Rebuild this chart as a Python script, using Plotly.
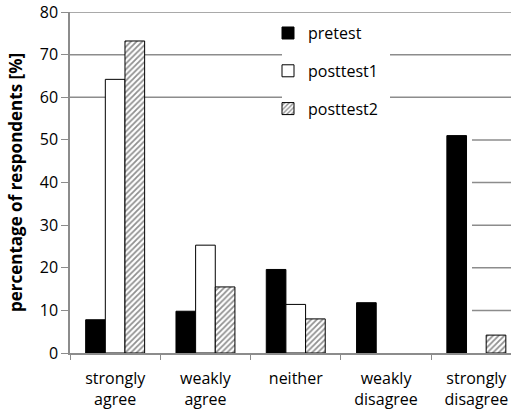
import plotly.graph_objects as go

categories = ["strongly<br>agree", "weakly<br>agree", "neither", "weakly<br>disagree", "strongly<br>disagree"]
pretest = [7.8, 9.8, 19.6, 11.8, 51.0]
posttest1 = [64.2, 25.3, 11.4, None, None]
posttest2 = [73.2, 15.5, 8.0, None, 4.2]
y_ticks = [0, 10, 20, 30, 40, 50, 60, 70, 80]

W, H = 511, 409
ML, MR, MT, MB = 70, 0, 12, 56
FONT = "Open Sans"
GRID = "#8c8c8c"

fig = go.Figure()
fig.add_trace(go.Bar(name="pretest", x=categories, y=pretest, legendgroup="a",
                     marker=dict(color="black", line=dict(color="black", width=1))))
fig.add_trace(go.Bar(name="posttest1", x=categories, y=posttest1, legendgroup="b",
                     marker=dict(color="white", line=dict(color="black", width=1))))
fig.add_trace(go.Bar(name="posttest2", x=categories, y=posttest2, legendgroup="c",
                     marker=dict(color="white", line=dict(color="black", width=1),
                                 pattern=dict(shape="/", size=4, solidity=0.45,
                                              fgcolor="#222222", bgcolor="white"))))

pw = W - ML - MR
cat_px = 90.3
xmax = pw / cat_px - 0.5

def px2paper(px):
    return (px - ML) / pw

fig.update_layout(
    width=W, height=H,
    margin=dict(l=ML, r=MR, t=MT, b=MB, pad=0),
    paper_bgcolor="white", plot_bgcolor="white",
    barmode="group", bargap=0.347, bargroupgap=0,
    font=dict(family=FONT, size=15, color="black"),
    showlegend=True,
    legend=dict(x=px2paper(268), xanchor="left", y=0.988, yanchor="top",
                bgcolor="rgba(0,0,0,0)", font=dict(size=16, family=FONT),
                tracegroupgap=14, itemwidth=30),
    xaxis=dict(range=[-0.5, xmax], showgrid=False, showline=True,
               linecolor=GRID, linewidth=1.5, ticks="outside",
               tickson="boundaries", ticklen=5, tickcolor=GRID,
               tickfont=dict(size=16, family=FONT), ticklabelstandoff=10),
    yaxis=dict(range=[0, 80], tickvals=y_ticks, showgrid=False,
               showline=True, linecolor=GRID, linewidth=1.5, ticks="outside",
               ticklen=7, tickcolor=GRID, zeroline=False,
               tickfont=dict(size=16, family=FONT),
               title=dict(text="<b>percentage of respondents [%]</b>",
                          font=dict(size=17, family=FONT), standoff=13)),
)

# gridlines drawn as shapes below the bars; partly hidden as in the reference
legend_gap = (px2paper(282), px2paper(390))
for v in y_ticks[1:]:
    if v >= 60:
        if v == 80:
            segs = [(0, 1)]
        else:
            segs = [(0, legend_gap[0]), (legend_gap[1], 1)]
    else:
        segs = [(px2paper(472), 1)]
    for a, b in segs:
        fig.add_shape(type="line", xref="paper", yref="y", x0=a, x1=b, y0=v, y1=v,
                      line=dict(color=GRID, width=1.5), layer="below")

fig.write_html("out.html")
